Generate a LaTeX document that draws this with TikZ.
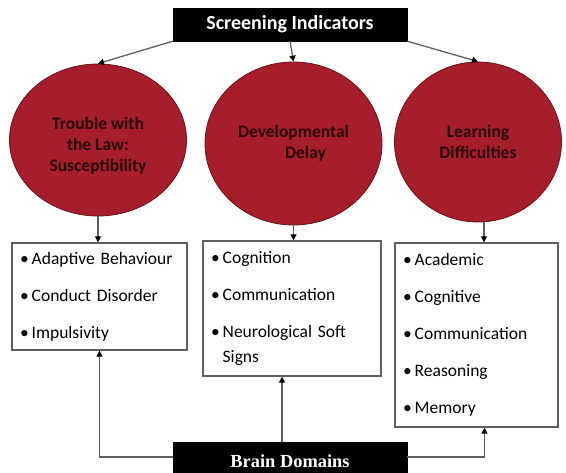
\documentclass[tikz,border=0pt]{standalone}
\usepackage{fontspec}
\setmainfont{Carlito}
\newfontfamily\brainfont{Liberation Serif}
\usetikzlibrary{arrows.meta,shapes.geometric}
\definecolor{discred}{RGB}{166,29,44}
\definecolor{discedge}{RGB}{105,18,24}
\definecolor{discink}{RGB}{40,6,10}
\definecolor{wire}{RGB}{95,95,95}

\begin{document}
\begin{tikzpicture}
[x=1pt,y=-1pt,
>={Triangle[length=6pt,width=6pt,color=black]},
banner/.style={fill=black,draw=black,minimum width=234pt,inner sep=0pt,text=white},
disc/.style={ellipse,fill=discred,draw=discedge,line width=0.8pt,inner sep=0pt,
  text=discink,font=\fontsize{17.5}{21}\selectfont\bfseries,align=center},
listbox/.style={draw=wire,line width=1.4pt,fill=white,inner xsep=8pt,inner ysep=0pt,
  align=left,font=\fontsize{17.5}{25}\selectfont},
conn/.style={draw=wire,line width=1.3pt}]
  \useasboundingbox (0,0) rectangle (566,473);
  \node [banner, minimum height=33pt, font=\fontsize{20}{24}\selectfont\bfseries] (screen) at (290,24.5) {Screening Indicators};
  \node [disc, minimum width=177pt, minimum height=152pt] (law) at (98,140) {\rule{0pt}{23pt}Trouble with\\the Law:\\Susceptibility};
  \node [disc, minimum width=177pt, minimum height=163pt] (delay) at (293.5,143.5) {Developmental\\\hspace*{24pt}Delay};
  \node [disc, minimum width=167pt, minimum height=160pt] (learn) at (478,142) {Learning\\Difficulties};
  \node [listbox, text width=159pt, minimum height=107pt] (lawlist) at (99.5,296.5)
    {\textbullet\hspace{3pt}Adaptive Behaviour\\[12pt]
     \textbullet\hspace{3pt}Conduct Disorder\\[12pt]
     \textbullet\hspace{3pt}Impulsivity};
  \node [listbox, text width=162pt, minimum height=135pt] (delaylist) at (292,308.5)
    {\textbullet\hspace{3pt}Cognition\\[12pt]
     \textbullet\hspace{3pt}Communication\\[12pt]
     \textbullet\hspace{3pt}Neurological Soft\\
     \hphantom{\textbullet\hspace{3pt}}Signs};
  \node [listbox, text width=147pt, minimum height=184pt] (learnlist) at (476.5,335)
    {\textbullet\hspace{3pt}Academic\\[12pt]
     \textbullet\hspace{3pt}Cognitive\\[12pt]
     \textbullet\hspace{3pt}Communication\\[12pt]
     \textbullet\hspace{3pt}Reasoning\\[12pt]
     \textbullet\hspace{3pt}Memory};
  \node [banner, minimum height=38pt, font=\brainfont\fontsize{18.4}{22}\selectfont\bfseries] (brain) at (290,461) {Brain Domains};
  \draw [conn,->] (screen.south west) -- (law.north);
  \draw [conn,->] (screen.south) -- (delay.north);
  \draw [conn,->] (screen.south east) -- (learn.north);
  \draw [conn,->] (law.south) -- (law.south |- lawlist.north);
  \draw [conn,->] (delay.south) -- (delay.south |- delaylist.north);
  \draw [conn,->] ([xshift=6pt]learn.south) -- ([xshift=6pt]learn.south |- learnlist.north);
  \draw [conn,->] ([yshift=4pt]brain.west) -| (lawlist.south);
  \draw [conn,->] ([xshift=-8pt]brain.north) -- ([xshift=-8pt]brain.north |- delaylist.south);
  \draw [conn,->] ([yshift=4pt]brain.east) -| ([xshift=8pt]learnlist.south);
\end{tikzpicture}
\end{document}
